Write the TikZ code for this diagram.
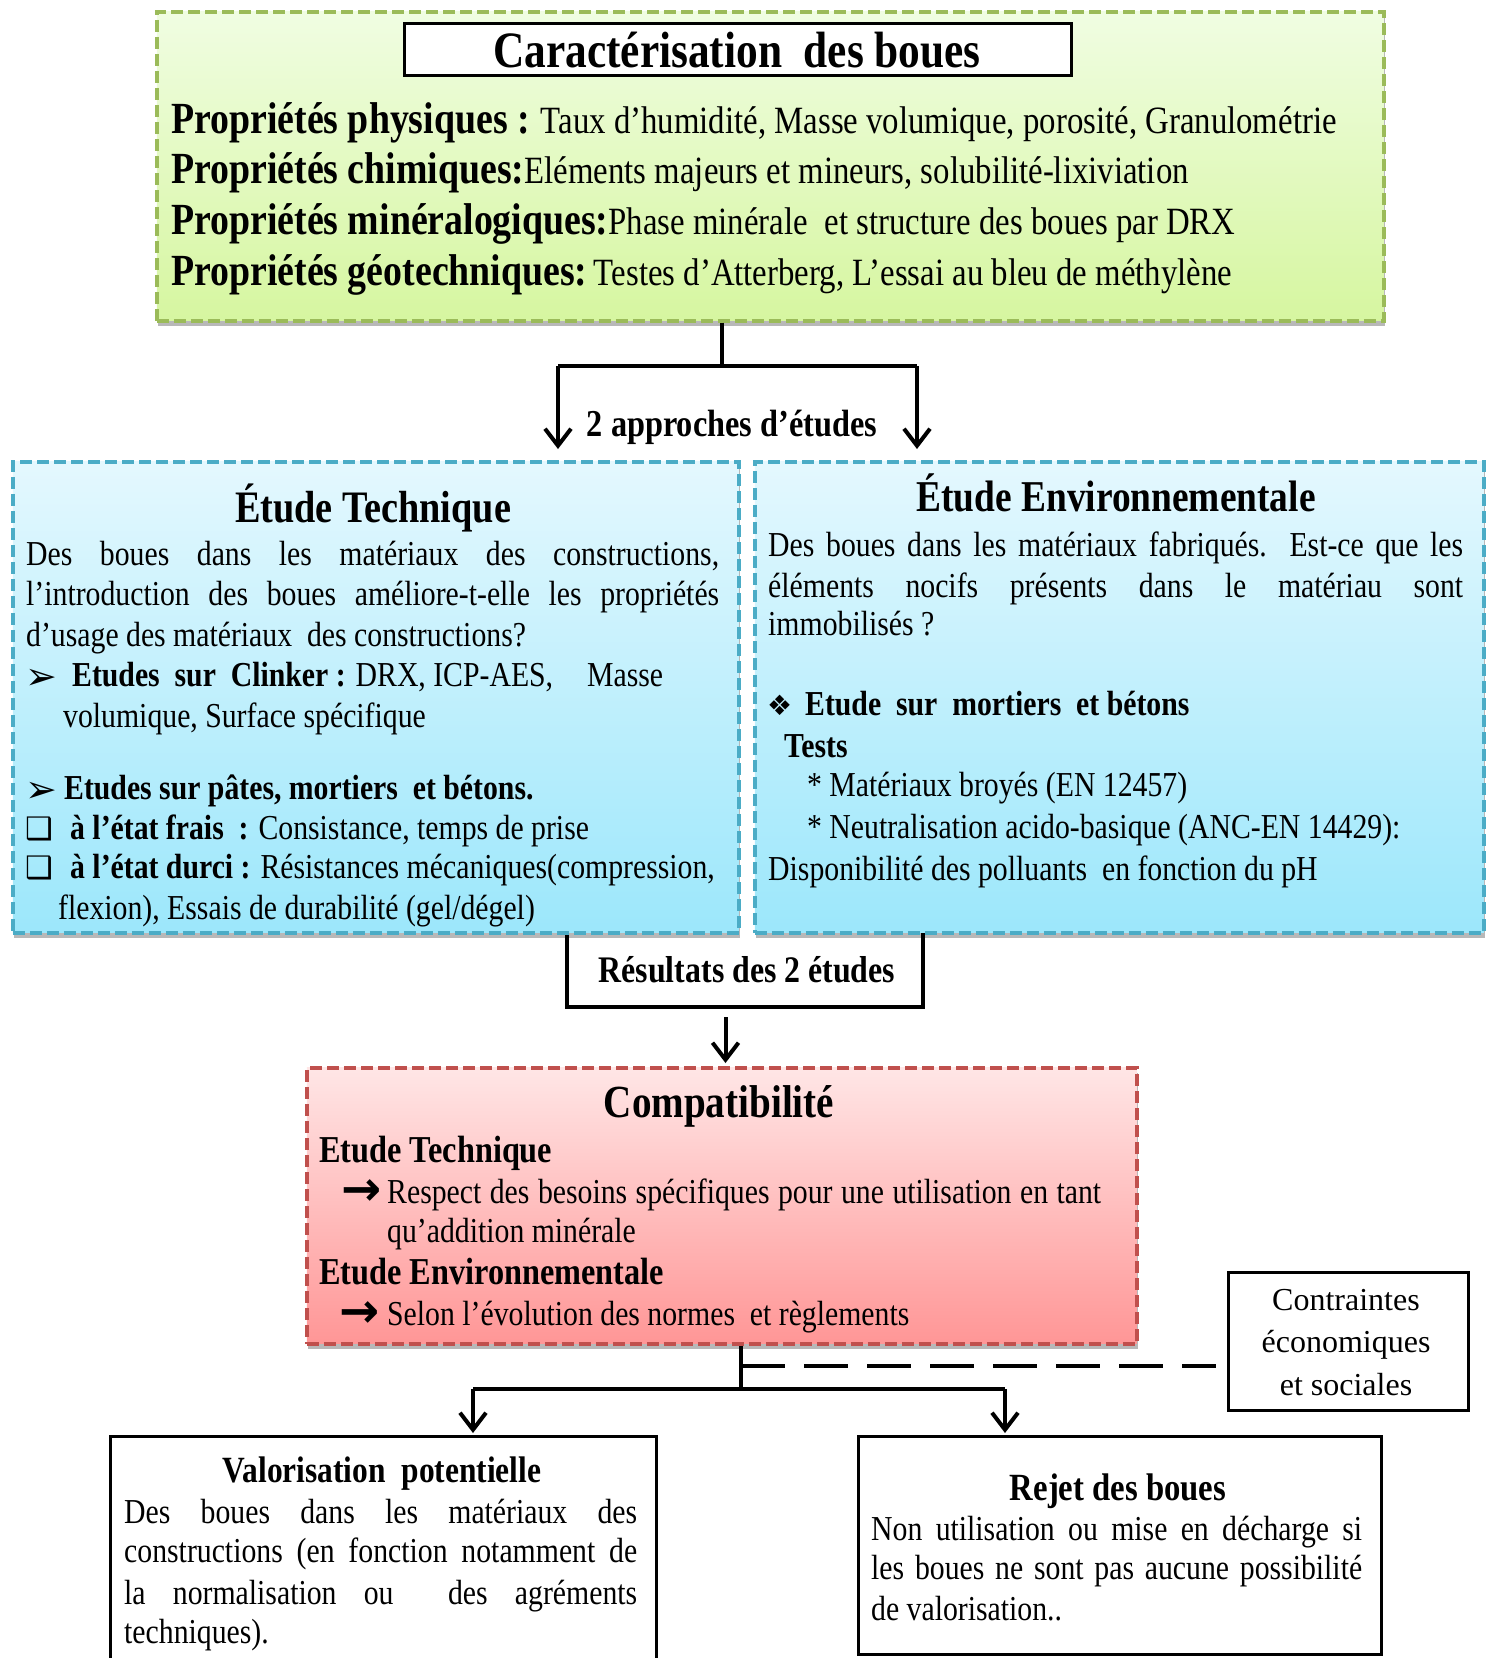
\documentclass[tikz,border=0pt]{standalone}
\usepackage{fontspec}
\setmainfont{Liberation Serif}[FakeStretch=0.85]
\newfontfamily\wideserif{Liberation Serif}
\newfontfamily\dingfont{DejaVu Sans}
\usetikzlibrary{arrows.meta,shadows}

\definecolor{grnedge}{RGB}{155,187,89}
\definecolor{grntop}{RGB}{240,253,226}
\definecolor{grnbot}{RGB}{214,246,160}
\definecolor{bluedge}{RGB}{75,172,198}
\definecolor{blutop}{RGB}{228,248,254}
\definecolor{blubot}{RGB}{156,231,251}
\definecolor{rededge}{RGB}{192,80,77}
\definecolor{redtop}{RGB}{255,230,230}
\definecolor{redbot}{RGB}{255,150,150}

\newcommand\sz[2]{\fontsize{#1pt}{#2pt}\selectfont}
\newcommand\jline[2]{\makebox[#1pt][s]{#2}}
\newcommand\arrowsym{{\dingfont\bfseries\sz{48}{48}\raisebox{-2pt}{→}}}

\tikzset{
  txt/.style={inner sep=0pt, anchor=base west, font=\sz{35}{40}},
  ctxt/.style={inner sep=0pt, anchor=base},
  bul/.style={inner sep=0pt, anchor=base west, font=\dingfont\sz{31}{34}},
  frame/.style={anchor=north west, inner sep=0pt, line width=3.5pt,
    dash pattern=on 12pt off 5pt,
    drop shadow={shadow xshift=1pt, shadow yshift=-5pt, opacity=0.28, fill=black}},
  greenbox/.style={frame, draw=grnedge, top color=grntop, bottom color=grnbot},
  bluebox/.style={frame, draw=bluedge, top color=blutop, bottom color=blubot},
  redbox/.style={frame, draw=rededge, top color=redtop, bottom color=redbot},
  plainbox/.style={anchor=north west, inner sep=0pt, draw=black, line width=3pt, fill=white},
  conn/.style={draw=black, line width=4pt},
  arr/.style={conn, -{Straight Barb[length=17pt,width=26pt,line width=4pt]}},
  longdash/.style={draw=black, line width=4.5pt, dash pattern=on 44pt off 19pt},
}

\begin{document}
\begin{tikzpicture}[x=1pt,y=-1pt]
\useasboundingbox (0,0) rectangle (1488,1658);

% ---------- characterisation block ----------
\node[greenbox, minimum width=1227pt, minimum height=309pt] (car) at (155,10) {};
\node[plainbox, minimum width=667pt, minimum height=52pt] (ttl) at (403,22) {};
\node[ctxt, font=\bfseries\sz{51}{56}] (ttltxt) at (737,67) {Caractérisation\ \ des boues};

\node[txt, font=\sz{38.6}{50}] (p1) at (171,133)
  {{\bfseries\sz{44.5}{50}Propriétés physiques :} Taux d’humidité,\ Masse volumique,\ porosité,\ Granulométrie};
\node[txt, font=\sz{38.6}{50}] (p2) at (171,183)
  {{\bfseries\sz{44.5}{50}Propriétés chimiques:}Eléments\ majeurs\ et mineurs,\ solubilité-lixiviation};
\node[txt, font=\sz{38.6}{50}] (p3) at (171,234)
  {{\bfseries\sz{44.5}{50}Propriétés minéralogiques:}Phase minérale\ \ et structure des boues par DRX};
\node[txt, font=\sz{38.6}{50}] (p4) at (171,285)
  {{\bfseries\sz{44.5}{50}Propriétés géotechniques:}\,Testes d’Atterberg,\ L’essai au bleu de méthylène};

% ---------- results frame (open at the top, drawn under the study boxes) ----------
\node[anchor=north west, inner sep=0pt, minimum width=356pt, minimum height=82pt] (res) at (567,925) {};
\draw[conn] (res.north west) -- (res.south west) -- (res.south east) -- (res.north east);
\node[ctxt, font=\bfseries\sz{37.5}{42}] (restxt) at (747,982) {Résultats\ des 2 études};

% ---------- technical study ----------
\node[bluebox, minimum width=726pt, minimum height=471pt] (tech) at (11,460) {};
\node[ctxt, font=\bfseries\sz{45}{50}] (techttl) at (373,522) {Étude Technique};
\node[txt] (t1) at (26,565) {\jline{693}{Des boues dans les matériaux des constructions,}};
\node[txt] (t2) at (26,605) {\jline{693}{l’introduction des boues améliore-t-elle les propriétés}};
\node[txt] (t3) at (26,646) {d’usage\ des matériaux\ \ des constructions?};
\node[bul, font=\dingfont\sz{38}{40}] (b1) at (25,689) {➢};
\node[txt] (t4) at (72,686) {\makebox[591pt][l]{\textbf{Etudes\ \ sur\ \ Clinker :} DRX,\ ICP-AES,\hfill Masse}};
\node[txt] (t5) at (63,727) {volumique,\ Surface\ spécifique};
\node[bul, font=\dingfont\sz{38}{40}] (b2) at (25,802) {➢};
\node[txt] (t6) at (64,799) {\textbf{Etudes\ sur\ pâtes, mortiers\ \ et bétons.}};
\node[bul] (b3) at (25,839) {❑};
\node[txt] (t7) at (70,839) {\textbf{à l’état frais\ \ :} Consistance,\ temps\ de prise};
\node[bul] (b4) at (25,878) {❑};
\node[txt] (t8) at (70,878) {\textbf{à l’état durci :} Résistances mécaniques(compression,};
\node[txt] (t9) at (58,919) {flexion),\ Essais de durabilité (gel/dégel)};

% ---------- environmental study ----------
\node[bluebox, minimum width=729pt, minimum height=471pt] (env) at (753,460) {};
\node[ctxt, font=\bfseries\sz{44}{50}] (envttl) at (1116,511) {Étude Environnementale};
\node[txt] (e1) at (768,556) {\jline{695}{Des boues dans les matériaux fabriqués. Est-ce que les}};
\node[txt] (e2) at (768,597) {\jline{695}{éléments nocifs présents dans le matériau sont}};
\node[txt] (e3) at (768,635) {immobilisés ?};
\node[bul, font=\dingfont\sz{28}{30}] (b5) at (767,715) {❖};
\node[txt] (e4) at (805,715) {\textbf{Etude\ \ sur\ \ mortiers\ \ et bétons}};
\node[txt] (e5) at (784,757) {\textbf{Tests}};
\node[txt] (e6) at (807,796) {* Matériaux\ broyés\ (EN 12457)};
\node[txt] (e7) at (807,838) {* Neutralisation\ acido-basique\ (ANC-EN\ 14429):};
\node[txt] (e8) at (768,880) {Disponibilité des polluants\ \ en fonction\ du pH};

% ---------- compatibility ----------
\node[redbox, minimum width=830pt, minimum height=276pt] (comp) at (305,1066) {};
\node[ctxt, font=\bfseries\sz{46}{50}] (compttl) at (719,1117) {Compatibilité};
\node[txt, font=\bfseries\sz{38}{42}] (c1) at (319,1162) {Etude Technique};
\node[txt] (c2a) at (341,1203) {\arrowsym};
\node[txt] (c2) at (387,1203) {\jline{714}{Respect des besoins spécifiques pour une utilisation en tant}};
\node[txt] (c3) at (387,1242) {qu’addition\ minérale};
\node[txt, font=\bfseries\sz{38}{42}] (c4) at (319,1284) {Etude Environnementale};
\node[txt] (c5a) at (339,1325) {\arrowsym};
\node[txt] (c5) at (387,1325) {Selon\ l’évolution\ des normes\ \ et règlements};

% ---------- constraints ----------
\node[plainbox, line width=2.5pt, minimum width=240pt, minimum height=138pt] (contr) at (1227,1271) {};
\node[ctxt, font=\wideserif\sz{32}{42}] (k1) at (1346,1310) {Contraintes};
\node[ctxt, font=\wideserif\sz{32}{42}] (k2) at (1346,1352) {économiques};
\node[ctxt, font=\wideserif\sz{32}{42}] (k3) at (1346,1395) {et sociales};

% ---------- outcomes ----------
\node[plainbox, minimum width=546pt, minimum height=250pt] (valo) at (109,1435) {};
\node[ctxt, font=\bfseries\sz{37}{42}] (valottl) at (382,1482) {Valorisation\ \ potentielle};
\node[txt] (v1) at (124,1523) {\jline{513}{Des boues dans les matériaux des}};
\node[txt] (v2) at (124,1562) {\jline{513}{constructions (en fonction notamment de}};
\node[txt] (v3) at (124,1604) {\jline{513}{la normalisation ou\ \ des agréments}};
\node[txt] (v4) at (124,1643) {techniques).};

\node[plainbox, minimum width=523pt, minimum height=218pt] (rej) at (857,1435) {};
\node[ctxt, font=\bfseries\sz{38.5}{42}] (rejttl) at (1118,1500) {Rejet des boues};
\node[txt] (r1) at (871,1540) {\jline{491}{Non utilisation ou mise en décharge si}};
\node[txt] (r2) at (871,1579) {\jline{491}{les boues ne sont pas aucune possibilité}};
\node[txt] (r3) at (871,1620) {de valorisation..};

% ---------- connectors ----------
\coordinate (split1) at (722,366);
\coordinate (aL) at (558,0);
\coordinate (aR) at (917,0);
\draw[conn] (car.south -| split1) -- (split1);
\draw[conn] (split1 -| aL) -- (split1 -| aR);
\draw[arr, shorten >=11pt] (split1 -| aL) -- (tech.north -| aL);
\draw[arr, shorten >=11pt] (split1 -| aR) -- (env.north -| aR);
\node[ctxt, font=\bfseries\sz{38}{42}] (appr) at (732,436) {2 approches d’études};

\coordinate (aM) at (725.5,0);
\draw[arr, shorten <=10pt, shorten >=3pt] (res.south -| aM) -- (comp.north -| aM);

\coordinate (split2) at (741,1389);
\coordinate (dsh) at (741,1366);
\coordinate (bL) at (473,0);
\coordinate (bR) at (1005,0);
\draw[conn] (comp.south -| split2) -- (split2);
\draw[conn] (split2 -| bL) -- (split2 -| bR);
\draw[arr, shorten >=2pt] (split2 -| bL) -- (valo.north -| bL);
\draw[arr, shorten >=2pt] (split2 -| bR) -- (rej.north -| bR);
\draw[longdash, shorten >=11pt] (dsh) -- (dsh -| contr.west);
\end{tikzpicture}
\end{document}
